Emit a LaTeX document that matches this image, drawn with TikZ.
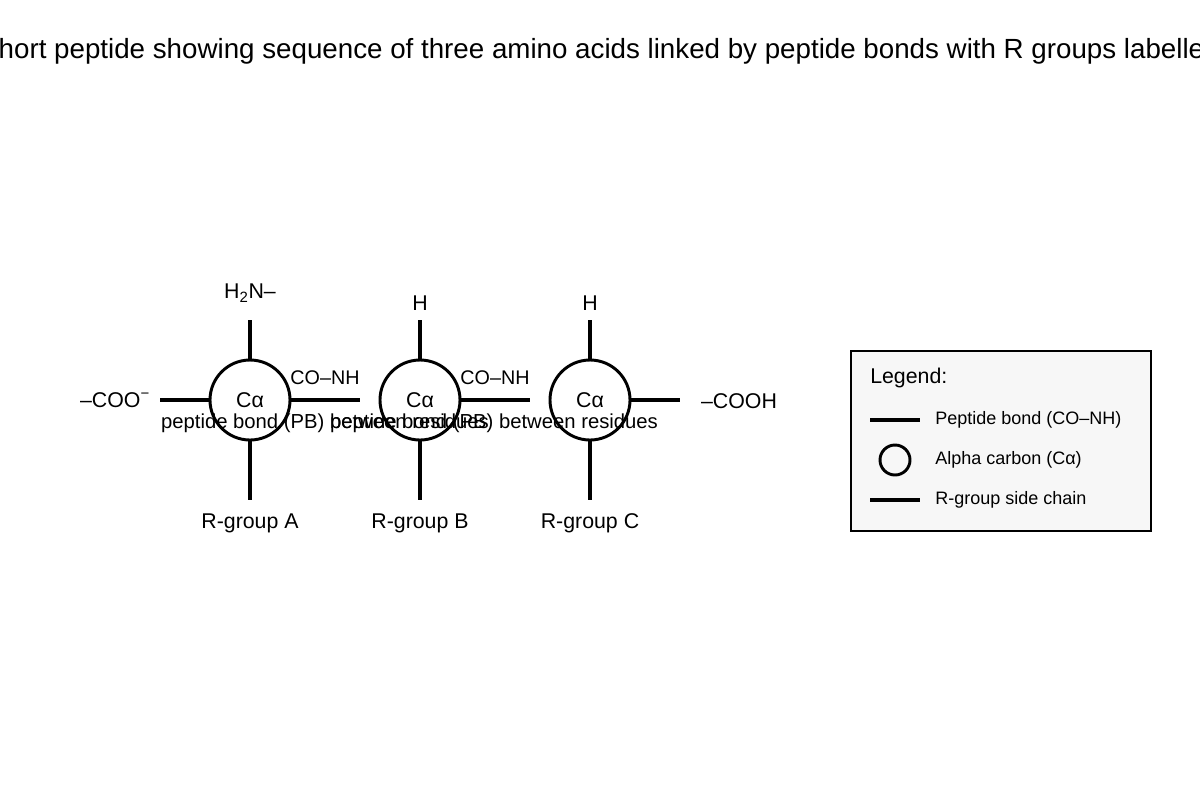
\documentclass[tikz,border=0pt]{standalone}
\usepackage{fontspec}
\setmainfont{Liberation Sans}
\begin{document}
\begin{tikzpicture}[x=0.75pt,y=-0.75pt,
  bond/.style={line width=2.3pt},
  ca/.style={circle,draw,line width=2.2pt,minimum size=60pt,inner sep=0pt,font=\fontsize{16}{19}\selectfont},
  lbl/.style={font=\fontsize{16}{19}\selectfont,inner sep=0pt},
  pbl/.style={font=\fontsize{15.2}{18}\selectfont,inner sep=0pt},
  small/.style={font=\fontsize{14.8}{17}\selectfont,inner sep=0pt},
  leg/.style={font=\fontsize{13.5}{16}\selectfont,inner sep=0pt,anchor=west}]
\useasboundingbox (0,0) rectangle (1200,800);
\node[font=\fontsize{20.8}{24}\selectfont] (title) at (600,51) {Short peptide showing sequence of three amino acids linked by peptide bonds with R groups labelled};
\node[ca] (c1) at (250,400) {Cα};
\node[ca] (c2) at (420,400) {Cα};
\node[ca] (c3) at (590,400) {Cα};
\coordinate (t1) at (250,320); \coordinate (t2) at (420,320); \coordinate (t3) at (590,320);
\coordinate (b1) at (250,500); \coordinate (b2) at (420,500); \coordinate (b3) at (590,500);
\coordinate (l1) at (160,400); \coordinate (r3) at (680,400);
\coordinate (r1) at (360,400); \coordinate (r2) at (530,400);
\draw[bond] (t1)--(c1.north) (c1.south)--(b1);
\draw[bond] (t2)--(c2.north) (c2.south)--(b2);
\draw[bond] (t3)--(c3.north) (c3.south)--(b3);
\draw[bond] (l1)--(c1.west) (c1.east)--(r1) (c2.east)--(r2) (c3.east)--(r3);
\node[lbl] (h2n) at (250,293) {H\textsubscript{2}N–};
\node[lbl] (h2) at (420,303) {H};
\node[lbl] (h3) at (590,303) {H};
\node[lbl] (coo) at (115,400) {–COO\textsuperscript{−}};
\node[lbl] (cooh) at (739,401) {–COOH};
\node[lbl] (ra) at (250,523) {R-group A};
\node[lbl] (rb) at (420,523) {R-group B};
\node[lbl] (rc) at (590,523) {R-group C};
\node[small] (p1) at (325,378) {CO–NH};
\node[small] (p2) at (495,378) {CO–NH};
\node[pbl] (pb1) at (325,423) {peptide bond (PB) between residues};
\node[pbl] (pb2) at (494,423) {peptide bond (PB) between residues};
\node[draw,line width=1.5pt,fill=black!3,minimum width=225pt,minimum height=135pt,anchor=north west] (box) at (850,350) {};
\node[lbl,anchor=west] (lt) at (870,378) {Legend:};
\coordinate (la) at (870,420); \coordinate (lb) at (920,420);
\draw[bond] (la)--(lb);
\node[leg] (lt1) at (935,420) {Peptide bond (CO–NH)};
\node[circle,draw,line width=2.2pt,minimum size=22.5pt,inner sep=0pt] (lc) at (895,460) {};
\node[leg] (lt2) at (935,460) {Alpha carbon (Cα)};
\coordinate (lc1) at (870,500); \coordinate (lc2) at (920,500);
\draw[bond] (lc1)--(lc2);
\node[leg] (lt3) at (935,500) {R-group side chain};
\end{tikzpicture}
\end{document}
